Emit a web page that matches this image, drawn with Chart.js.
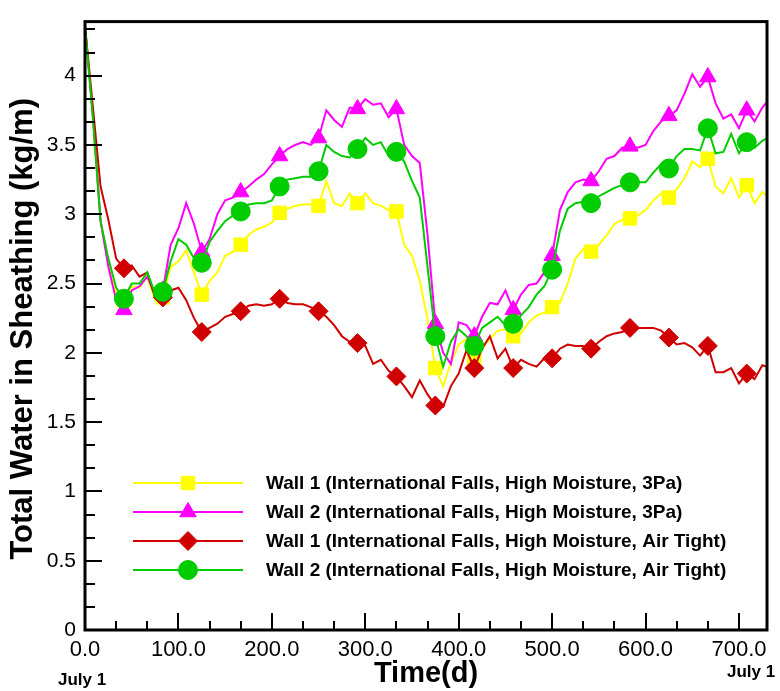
<!DOCTYPE html>
<html>
<head>
<meta charset="utf-8">
<script src="https://cdn.jsdelivr.net/npm/chart.js@4"></script>
<style>
  html, body { margin: 0; padding: 0; background: #fff; }
  #wrap { width: 780px; height: 691px; }
</style>
</head>
<body>
<div id="wrap"><canvas id="chart" width="780" height="691"></canvas></div>
<script>
// time in days, one sample every 200 h; markers sit on every 5th sample (1000 h)
const days = [0, 8.33, 16.67, 25, 33.33, 41.67, 50, 58.33, 66.67, 75,
  83.33, 91.67, 100, 108.33, 116.67, 125, 133.33, 141.67, 150, 158.33,
  166.67, 175, 183.33, 191.67, 200, 208.33, 216.67, 225, 233.33, 241.67,
  250, 258.33, 266.67, 275, 283.33, 291.67, 300, 308.33, 316.67, 325,
  333.33, 341.67, 350, 358.33, 366.67, 375, 383.33, 391.67, 400, 408.33,
  416.67, 425, 433.33, 441.67, 450, 458.33, 466.67, 475, 483.33, 491.67,
  500, 508.33, 516.67, 525, 533.33, 541.67, 550, 558.33, 566.67, 575,
  583.33, 591.67, 600, 608.33, 616.67, 625, 633.33, 641.67, 650, 658.33,
  666.67, 675, 683.33, 691.67, 700, 708.33, 716.67, 725, 730];

const wall1_3Pa = [4.36, 3.72, 2.95, 2.64, 2.44, 2.38, 2.48, 2.47, 2.55, 2.38,
  2.40, 2.62, 2.66, 2.74, 2.58, 2.42, 2.52, 2.58, 2.70, 2.73,
  2.78, 2.85, 2.89, 2.91, 2.94, 3.01, 3.04, 3.06, 3.07, 3.07,
  3.06, 3.24, 3.08, 3.06, 3.15, 3.08, 3.15, 3.08, 3.06, 3.03,
  3.02, 2.78, 2.70, 2.52, 2.24, 1.89, 1.76, 1.93, 2.06, 2.10,
  1.95, 2.03, 2.10, 2.16, 2.17, 2.12, 2.14, 2.22, 2.27, 2.29,
  2.33, 2.36, 2.50, 2.68, 2.75, 2.73, 2.78, 2.85, 2.93, 2.96,
  2.97, 2.99, 3.03, 3.10, 3.15, 3.12, 3.18, 3.26, 3.38, 3.34,
  3.40, 3.20, 3.15, 3.26, 3.12, 3.21, 3.08, 3.16, 3.13];

const wall2_3Pa = [4.36, 3.72, 2.95, 2.62, 2.38, 2.31, 2.45, 2.48, 2.55, 2.42,
  2.45, 2.78, 2.90, 3.08, 2.93, 2.73, 2.82, 3.00, 3.10, 3.12,
  3.16, 3.20, 3.25, 3.29, 3.36, 3.42, 3.47, 3.50, 3.52, 3.50,
  3.55, 3.75, 3.68, 3.63, 3.77, 3.76, 3.83, 3.79, 3.80, 3.70,
  3.76, 3.50, 3.42, 3.37, 2.85, 2.21, 2.00, 1.92, 2.22, 2.20,
  2.12, 2.26, 2.36, 2.35, 2.45, 2.31, 2.42, 2.49, 2.50, 2.58,
  2.70, 3.03, 3.16, 3.23, 3.25, 3.24, 3.31, 3.40, 3.42, 3.48,
  3.49, 3.48, 3.50, 3.60, 3.67, 3.71, 3.75, 3.87, 4.01, 3.92,
  3.99, 3.80, 3.69, 3.72, 3.62, 3.75, 3.67, 3.77, 3.81];

const wall1_airTight = [4.36, 3.78, 3.20, 2.96, 2.68, 2.61, 2.63, 2.55, 2.58, 2.40,
  2.40, 2.45, 2.47, 2.38, 2.25, 2.15, 2.18, 2.21, 2.26, 2.28,
  2.30, 2.34, 2.35, 2.34, 2.35, 2.39, 2.36, 2.35, 2.35, 2.33,
  2.30, 2.26, 2.20, 2.12, 2.08, 2.07, 2.05, 1.92, 1.95, 1.87,
  1.83, 1.76, 1.68, 1.80, 1.70, 1.62, 1.61, 1.76, 1.85, 2.02,
  1.89, 2.03, 2.12, 1.96, 2.03, 1.89, 1.95, 1.92, 1.90, 1.96,
  1.96, 2.03, 2.06, 2.05, 2.05, 2.03, 2.08, 2.12, 2.14, 2.15,
  2.18, 2.18, 2.18, 2.18, 2.16, 2.11, 2.06, 2.07, 2.04, 1.98,
  2.05, 1.86, 1.86, 1.89, 1.78, 1.85, 1.81, 1.91, 1.90];

const wall2_airTight = [4.36, 3.70, 2.95, 2.68, 2.47, 2.39, 2.50, 2.50, 2.58, 2.43,
  2.44, 2.66, 2.82, 2.78, 2.68, 2.65, 2.80, 2.88, 2.95, 2.99,
  3.02, 3.07, 3.08, 3.08, 3.10, 3.20, 3.25, 3.26, 3.27, 3.27,
  3.31, 3.50, 3.45, 3.42, 3.41, 3.47, 3.55, 3.50, 3.52, 3.42,
  3.45, 3.38, 3.24, 3.12, 2.62, 2.12, 1.90, 2.08, 2.17, 2.12,
  2.05, 2.18, 2.22, 2.26, 2.20, 2.21, 2.27, 2.33, 2.42, 2.48,
  2.60, 2.88, 3.04, 3.08, 3.09, 3.08, 3.13, 3.16, 3.19, 3.21,
  3.23, 3.23, 3.23, 3.30, 3.36, 3.33, 3.42, 3.47, 3.47, 3.46,
  3.62, 3.44, 3.45, 3.58, 3.44, 3.52, 3.48, 3.53, 3.55];

const seriesNames = [
  'Wall 1 (International Falls, High Moisture, 3Pa)',
  'Wall 2 (International Falls, High Moisture, 3Pa)',
  'Wall 1 (International Falls, High Moisture, Air Tight)',
  'Wall 2 (International Falls, High Moisture, Air Tight)'
];
const xTicks = [0, 100, 200, 300, 400, 500, 600, 700];
const yTicks = [0, 0.5, 1, 1.5, 2, 2.5, 3, 3.5, 4];
const FONT = '"Liberation Sans", Arial, Helvetica, sans-serif';

function toPoints(vals) {
  return vals.map((v, i) => ({ x: days[i], y: v }));
}

function makeSet(label, vals, color, style, order) {
  return {
    label: label,
    data: toPoints(vals),
    borderColor: color,
    backgroundColor: color,
    borderWidth: 2,
    pointStyle: style,
    pointRadius: ctx => (ctx.dataIndex > 0 && ctx.dataIndex % 5 === 0 && ctx.dataIndex < 88) ? 9.5 : 0,
    pointBackgroundColor: color,
    pointBorderColor: color,
    pointBorderWidth: 1,
    tension: 0,
    order: order
  };
}

// tecplot-ish frame, inward ticks, titles and legend
const decorations = {
  id: 'decorations',
  afterDatasetsDraw(chart) {
    const ctx = chart.ctx;
    const area = chart.chartArea;
    const xs = chart.scales.x;
    const ys = chart.scales.y;
    ctx.save();

    // legend inside the plot
    const rowY = [483, 512, 541, 570];
    chart.data.datasets.forEach((ds, i) => {
      const y = rowY[i];
      ctx.strokeStyle = ds.borderColor;
      ctx.fillStyle = ds.borderColor;
      ctx.lineWidth = 2;
      ctx.beginPath();
      ctx.moveTo(133, y);
      ctx.lineTo(243, y);
      ctx.stroke();
      ctx.lineWidth = 1;
      Chart.helpers.drawPoint(ctx, { pointStyle: ds.pointStyle, radius: 9.5, rotation: 0, borderWidth: 1 }, 188, y);
      ctx.fillStyle = '#000';
      ctx.font = 'bold 19px ' + FONT;
      ctx.textAlign = 'left';
      ctx.textBaseline = 'middle';
      ctx.fillText(ds.label, 266, y + 1);
    });

    // inward ticks
    ctx.strokeStyle = '#000';
    ctx.lineWidth = 2;
    for (let k = 0; k * 0.5 / 3 <= ys.max; k++) {
      const py = Math.round(ys.getPixelForValue(k * 0.5 / 3));
      const len = k % 3 === 0 ? 17 : 10;
      ctx.beginPath();
      ctx.moveTo(area.left, py);
      ctx.lineTo(area.left + len, py);
      ctx.stroke();
    }
    for (let k = 0; k * 100 / 3 <= xs.max; k++) {
      const px = Math.round(xs.getPixelForValue(k * 100 / 3));
      const len = k % 3 === 0 ? 17 : 9;
      ctx.beginPath();
      ctx.moveTo(px, area.bottom);
      ctx.lineTo(px, area.bottom - len);
      ctx.stroke();
    }

    // frame
    ctx.lineWidth = 3;
    ctx.strokeRect(area.left, area.top, area.right - area.left, area.bottom - area.top);

    // axis titles and date notes
    ctx.fillStyle = '#000';
    ctx.textAlign = 'center';
    ctx.textBaseline = 'alphabetic';
    ctx.font = 'bold 29px ' + FONT;
    ctx.fillText('Time(d)', 426, 682);

    ctx.font = 'bold 17px ' + FONT;
    ctx.textAlign = 'left';
    ctx.fillText('July 1', 58, 685);
    ctx.fillText('July 1', 727, 677);

    ctx.save();
    ctx.translate(32, (area.top + area.bottom) / 2 + 3);
    ctx.rotate(-Math.PI / 2);
    ctx.textAlign = 'center';
    ctx.font = 'bold 31px ' + FONT;
    ctx.fillText('Total Water in Sheathing (kg/m)', 0, 0);
    ctx.restore();

    ctx.restore();
  }
};

new Chart(document.getElementById('chart').getContext('2d'), {
  type: 'line',
  data: {
    datasets: [
      makeSet(seriesNames[0], wall1_3Pa, '#ffff00', 'rect', 4),
      makeSet(seriesNames[1], wall2_3Pa, '#ff00ff', 'triangle', 3),
      makeSet(seriesNames[2], wall1_airTight, '#d00000', 'rectRot', 2),
      makeSet(seriesNames[3], wall2_airTight, '#00cc00', 'circle', 1)
    ]
  },
  options: {
    responsive: false,
    animation: false,
    devicePixelRatio: 1,
    layout: { padding: { left: 0, top: 8, right: 13, bottom: 0 } },
    plugins: {
      legend: { display: false },
      tooltip: { enabled: false }
    },
    scales: {
      x: {
        type: 'linear',
        min: 0,
        max: 730,
        afterFit: s => { s.height = 61; },
        afterBuildTicks: s => { s.ticks = xTicks.map(v => ({ value: v })); },
        grid: { display: false, drawTicks: false },
        border: { display: false },
        ticks: {
          autoSkip: false,
          maxRotation: 0,
          padding: 7,
          color: '#000',
          font: { family: FONT, size: 22 },
          callback: v => Number(v).toFixed(1)
        }
      },
      y: {
        type: 'linear',
        min: 0,
        max: 4.39,
        afterFit: s => { s.width = 85; },
        afterBuildTicks: s => { s.ticks = yTicks.map(v => ({ value: v })); },
        grid: { display: false, drawTicks: false },
        border: { display: false },
        ticks: {
          padding: 9,
          color: '#000',
          font: { family: FONT, size: 21 },
          callback: v => String(v)
        }
      }
    }
  },
  plugins: [decorations]
});
</script>
</body>
</html>
